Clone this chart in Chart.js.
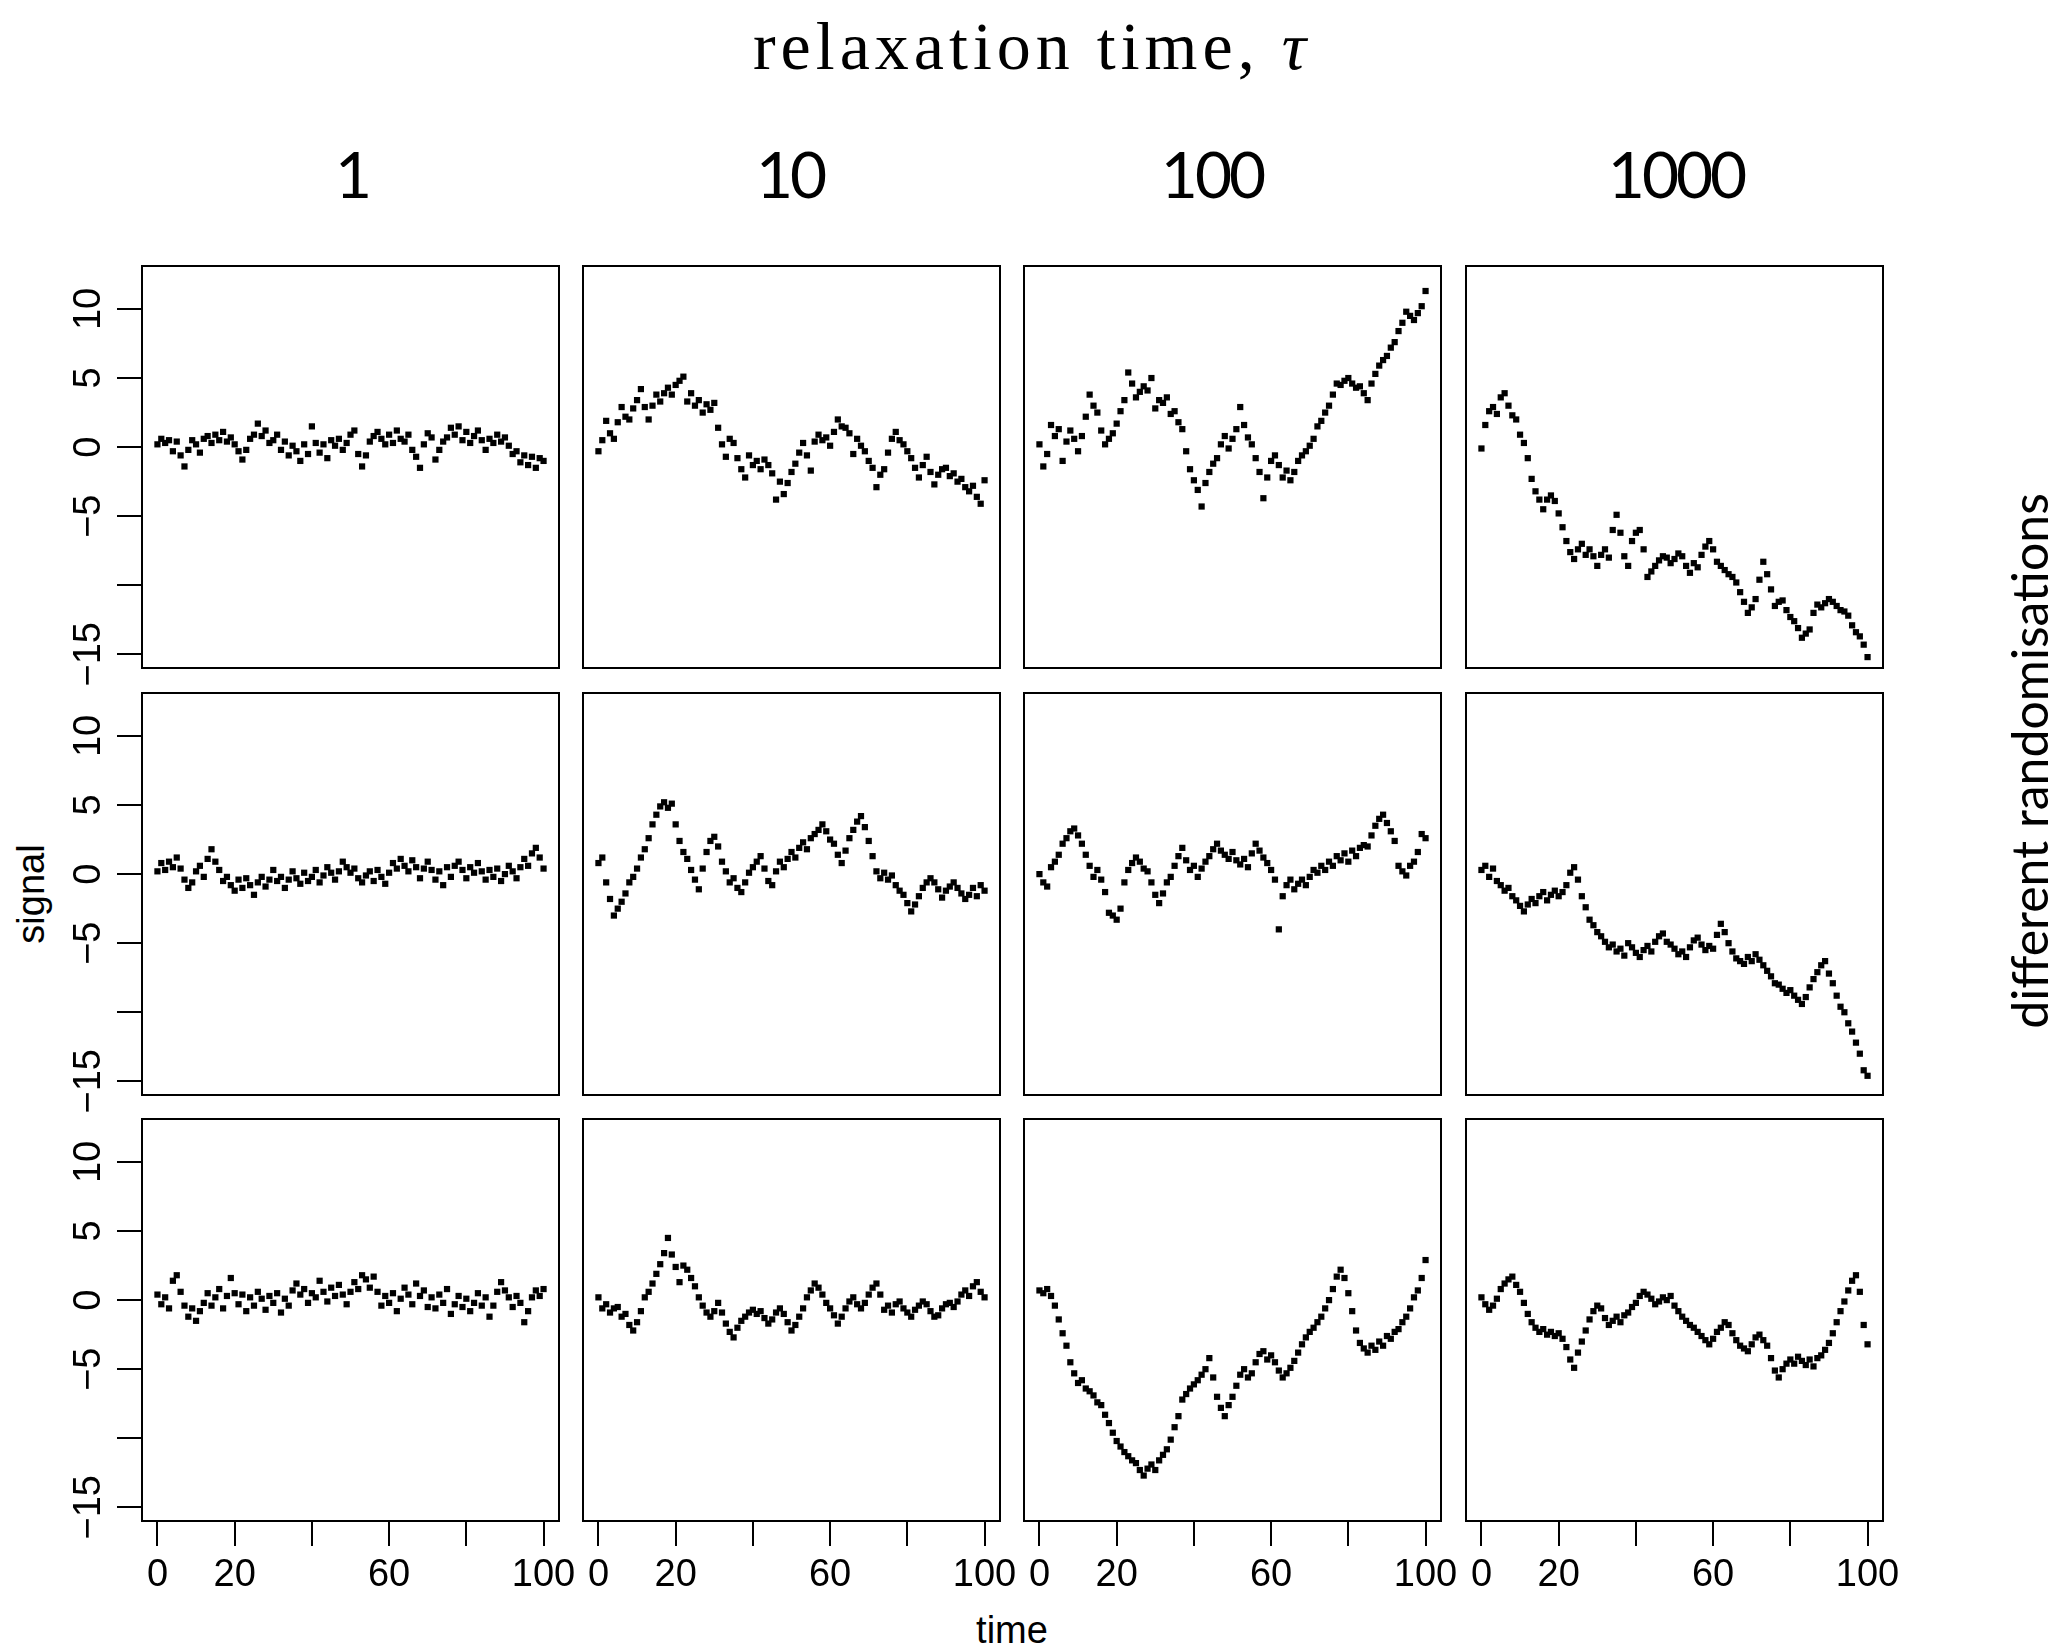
<!DOCTYPE html>
<html><head><meta charset="utf-8">
<script src="https://cdn.jsdelivr.net/npm/chart.js@4.4.0/dist/chart.umd.min.js"></script>
<style>
html,body{margin:0;padding:0;background:#fff}
body{width:2066px;height:1649px;position:relative;overflow:hidden}
canvas{position:absolute}
.t{position:absolute;white-space:nowrap;color:#000;line-height:1;transform:translate(-50%,-50%)}
.rot{transform:translate(-50%,-50%) rotate(-90deg)}
</style></head><body>
<div class="t" id="title" style="left:1032px;top:46px;font-family:'Liberation Serif',serif;font-size:68px;letter-spacing:5px">relaxation time, <i>τ</i></div>
<div class="t" style="left:31px;top:894px;font-family:'Liberation Sans',Arial,sans-serif;font-size:38px" id="ylab"></div>
<div class="t" style="left:1012px;top:1630px;font-family:'Liberation Sans',Arial,sans-serif;font-size:38px" id="xlab"></div>
<div class="t rot" style="left:2029px;top:761px;font-family:Lato,sans-serif;font-size:50px" id="rlab"></div>
<script>
// ---------- data ----------
const time = Array.from({length: 101}, (_, i) => i);
const tauLabels = ['1', '10', '100', '1000'];
const tauCenters = [352, 790, 1212, 1676];
const xTickValues = [0, 20, 40, 60, 80, 100];
const xTickLabels = ['0', '20', '', '60', '', '100'];
const yTickValues = [-15, -10, -5, 0, 5, 10];
const yTickLabels = ['\u221215', '', '\u22125', '0', '5', '10'];

// first randomisation
const tau1_run1 = [0.2,0.6,0.3,0.5,-0.3,0.4,-0.6,-1.4,-0.2,0.5,0.2,-0.4,0.6,0.8,0.3,0.9,0.5,1.1,0.4,0.7,0.2,-0.3,-0.9,-0.2,0.6,0.9,1.7,0.8,1.2,0.3,0.5,0.9,-0.2,0.4,-0.6,0.1,-0.3,-1.0,0.2,-0.5,1.5,0.3,-0.4,0.2,-0.8,0.5,0.1,0.6,-0.2,0.3,0.9,1.2,-0.5,-1.4,-0.6,0.4,0.8,1.1,0.6,0.2,0.9,0.3,1.2,0.6,0.4,0.9,-0.2,-0.7,-1.5,0.2,1.0,0.7,-0.9,-0.2,0.4,0.7,1.4,0.9,1.5,0.5,1.1,0.3,0.8,1.2,0.5,-0.2,0.6,0.3,0.9,0.4,0.7,0.1,-0.5,-0.3,-1.1,-0.6,-1.3,-0.7,-1.5,-0.8,-1.0];
const tau10_run1 = [-0.3,0.5,1.9,1.0,0.6,1.8,2.9,2.2,2.0,2.8,3.4,4.2,2.9,2.0,3.0,3.8,3.3,3.9,4.3,3.8,4.5,4.8,5.1,3.3,3.9,3.0,3.4,2.5,3.1,2.7,3.2,1.4,0.2,-0.7,0.6,0.3,-0.8,-1.6,-2.2,-0.6,-1.3,-1.0,-1.6,-0.9,-1.3,-1.9,-3.8,-2.5,-3.4,-2.6,-1.8,-1.2,-0.4,0.3,-0.6,-1.7,0.4,0.9,0.5,0.7,0.1,1.1,2.0,1.5,1.4,1.0,-0.5,0.6,0.1,-0.3,-1.0,-1.5,-2.9,-2.0,-1.6,-0.4,0.6,1.1,0.5,0.2,-0.3,-0.8,-1.5,-2.2,-1.3,-0.7,-1.8,-2.7,-2.0,-1.6,-1.5,-2.1,-1.9,-2.5,-2.3,-2.9,-3.2,-2.8,-3.6,-4.1,-2.4];
const tau100_run1 = [0.2,-1.4,-0.5,1.6,0.8,1.3,-1.0,0.4,1.2,0.6,-0.3,0.8,2.2,3.8,3.0,2.5,1.2,0.2,0.6,1.0,1.7,2.6,3.4,5.4,4.6,3.6,4.0,4.4,4.1,5.0,2.8,3.4,3.2,3.6,2.4,2.6,1.8,1.3,-0.3,-1.6,-2.4,-3.1,-4.3,-2.6,-1.8,-1.2,-0.8,0.2,0.8,-0.1,0.6,1.3,2.9,1.6,0.7,0.2,-0.8,-1.8,-3.7,-2.2,-1.0,-0.6,-1.3,-2.2,-1.7,-2.4,-1.8,-1.0,-0.6,-0.3,0.1,0.6,1.5,1.9,2.5,3.0,3.8,4.6,4.5,4.8,5.0,4.6,4.3,4.4,3.9,3.4,4.6,5.3,5.9,6.3,6.6,7.2,7.6,8.4,9.0,9.8,9.5,9.2,9.7,10.2,11.3];
const tau1000_run1 = [-0.1,1.6,2.6,2.9,2.4,3.6,3.9,3.0,2.3,2.0,0.9,0.3,-0.8,-2.3,-3.2,-3.8,-4.5,-3.8,-3.5,-3.9,-4.8,-5.8,-6.8,-7.6,-8.1,-7.4,-7.0,-7.8,-7.4,-7.9,-8.6,-7.8,-7.4,-8.0,-6.0,-4.9,-6.2,-7.9,-8.6,-6.8,-6.2,-6.0,-7.4,-9.4,-9.0,-8.6,-8.2,-7.9,-8.0,-8.4,-8.1,-7.7,-7.9,-8.6,-9.1,-8.4,-8.7,-7.8,-7.2,-6.8,-7.4,-8.3,-8.6,-8.9,-9.2,-9.4,-9.8,-10.5,-11.2,-12.0,-11.6,-11.0,-9.6,-8.3,-9.2,-10.3,-11.5,-11.2,-11.1,-11.8,-12.3,-12.6,-13.1,-13.8,-13.5,-13.2,-12.0,-11.4,-11.6,-11.3,-11.0,-11.2,-11.5,-11.8,-11.9,-12.2,-12.9,-13.4,-13.7,-14.3,-15.2];

// second randomisation
const tau1_run2 = [0.2,0.8,0.3,0.9,0.5,1.2,0.4,-0.4,-1.0,-0.6,0.2,0.6,-0.2,1.1,1.8,0.9,0.3,-0.5,-0.2,-0.8,-1.2,-0.4,-1.0,-0.3,-0.8,-1.5,-0.6,-0.2,-0.9,-0.4,0.3,-0.5,-0.2,-1.0,-0.4,0.2,-0.3,-0.7,0.1,-0.5,-0.2,0.3,-0.6,-0.1,0.5,0.1,-0.4,0.2,0.9,0.5,0.1,0.4,-0.3,-0.6,-0.1,0.2,-0.5,0.3,-0.2,-0.7,0.1,0.8,0.4,1.1,0.6,0.2,1.0,0.5,-0.3,0.4,0.9,0.3,-0.4,0.2,-0.8,0.5,-0.2,0.6,0.9,0.3,-0.3,0.5,0.1,0.8,0.2,-0.4,0.3,-0.2,0.4,-0.5,0.0,0.6,0.2,-0.3,0.5,1.1,0.6,1.5,1.9,1.2,0.4];
const tau10_run2 = [0.8,1.2,-0.6,-1.8,-3.0,-2.5,-2.0,-1.4,-0.6,-0.2,0.4,1.2,1.8,2.6,3.6,4.3,4.9,5.2,4.8,5.1,3.6,2.4,1.6,1.1,0.3,-0.4,-1.1,0.4,1.6,2.4,2.7,2.0,0.9,0.2,-0.6,-0.3,-1.0,-1.3,-0.6,0.1,0.5,0.9,1.3,0.4,-0.5,-0.8,0.2,0.9,0.5,1.1,1.6,1.2,1.9,2.3,1.8,2.6,2.9,3.2,3.6,3.1,2.5,2.2,1.4,0.8,1.7,2.6,3.2,3.8,4.2,3.4,2.4,1.3,0.2,-0.3,0.1,-0.4,-0.1,-0.8,-1.2,-1.5,-2.1,-2.7,-2.2,-1.6,-1.0,-0.6,-0.3,-0.6,-1.1,-1.7,-1.2,-0.9,-0.6,-1.0,-1.4,-1.8,-1.5,-1.0,-1.6,-0.8,-1.2];
const tau100_run2 = [0.0,-0.6,-0.9,0.5,0.9,1.4,2.2,2.6,3.1,3.3,2.8,2.2,1.4,0.6,-0.2,0.3,-0.4,-1.3,-2.8,-3.0,-3.3,-2.5,-0.6,0.3,0.8,1.2,0.9,0.4,0.2,-0.6,-1.5,-2.1,-1.4,-0.6,-0.2,0.6,1.3,1.9,1.0,0.3,0.6,-0.2,0.4,0.9,1.3,1.8,2.2,1.7,1.4,1.1,1.6,1.0,0.7,1.1,0.5,1.5,2.2,1.7,1.2,0.8,0.3,-0.4,-4.0,-1.6,-0.8,-0.4,-1.1,-0.7,-0.4,-0.8,-0.2,0.3,0.1,0.6,0.3,0.9,0.6,1.3,1.0,1.5,0.9,1.7,1.3,1.9,2.1,2.0,2.8,3.5,4.0,4.3,3.7,3.1,2.4,0.6,0.2,-0.1,0.6,0.9,1.6,2.9,2.6];
const tau1000_run2 = [0.3,0.6,-0.2,0.4,-0.5,-0.8,-1.2,-1.0,-1.6,-1.9,-2.3,-2.7,-2.2,-1.8,-2.1,-1.6,-1.3,-1.9,-1.5,-1.2,-1.6,-1.3,-0.8,0.1,0.5,-0.4,-1.6,-2.4,-3.3,-3.7,-4.2,-4.5,-4.9,-5.3,-5.1,-5.6,-5.4,-5.9,-5.0,-5.3,-5.7,-6.0,-5.5,-5.2,-5.6,-4.9,-4.5,-4.3,-4.9,-5.1,-5.4,-5.8,-5.6,-6.0,-5.3,-4.8,-4.6,-5.1,-5.5,-5.2,-5.4,-4.4,-3.6,-4.2,-5.0,-5.6,-6.1,-6.3,-6.5,-6.0,-6.3,-5.8,-6.2,-6.6,-7.0,-7.4,-7.9,-8.0,-8.3,-8.6,-8.4,-8.8,-9.1,-9.4,-8.9,-8.2,-7.6,-7.1,-6.6,-6.3,-7.2,-7.9,-8.8,-9.6,-10.0,-10.8,-11.4,-12.2,-13.0,-14.2,-14.6];

// third randomisation
const tau1_run3 = [0.4,-0.3,0.2,-0.6,1.4,1.8,0.6,-0.4,-1.2,-0.6,-1.5,-0.8,-0.2,0.5,-0.4,0.2,0.8,-0.6,0.3,1.6,0.5,-0.3,0.4,-0.8,0.2,-0.4,0.6,0.1,-0.7,0.3,-0.2,0.5,-0.9,0.1,-0.4,0.7,1.2,0.4,0.8,-0.2,0.5,0.2,1.4,0.6,-0.1,0.9,0.3,1.1,0.4,-0.3,0.6,1.3,0.8,1.8,1.5,0.9,1.7,0.6,-0.4,0.3,-0.2,0.5,-0.8,0.1,0.9,0.4,-0.3,1.2,0.3,0.7,-0.5,0.2,-0.6,0.4,-0.2,0.8,-1.0,-0.3,0.3,-0.5,0.1,-0.8,-0.2,0.5,-0.4,0.2,-1.2,-0.4,0.6,1.3,0.7,0.2,-0.5,0.3,-0.2,-1.6,-0.8,0.2,0.7,0.3,0.8];
const tau10_run3 = [0.2,-0.6,-0.3,-0.9,-0.6,-0.5,-1.2,-1.0,-1.8,-2.2,-1.6,-0.8,0.2,0.6,1.2,1.9,2.6,3.4,4.5,3.3,2.4,1.3,2.5,2.2,1.6,1.0,0.2,-0.4,-0.9,-1.2,-0.8,-0.2,-0.9,-1.7,-2.3,-2.7,-2.0,-1.5,-1.2,-0.9,-0.7,-1.0,-0.8,-1.3,-1.7,-1.4,-0.9,-0.6,-1.0,-1.6,-2.2,-1.8,-1.2,-0.6,0.2,0.7,1.2,0.9,0.4,-0.2,-0.6,-1.1,-1.7,-1.2,-0.6,-0.1,0.2,-0.3,-0.6,-0.2,0.4,0.9,1.2,0.4,-0.7,-0.4,-0.9,-0.3,-0.1,-0.6,-0.9,-1.2,-0.7,-0.4,-0.1,-0.3,-0.8,-1.2,-1.1,-0.6,-0.3,-0.2,-0.5,-0.1,0.4,0.7,0.3,1.0,1.3,0.6,0.2];
const tau100_run3 = [0.7,0.5,0.8,0.3,-0.4,-1.4,-2.4,-3.3,-4.5,-5.3,-6.0,-5.8,-6.4,-6.6,-6.9,-7.4,-7.6,-8.3,-8.9,-9.6,-10.2,-10.6,-11.0,-11.3,-11.6,-11.8,-12.3,-12.7,-12.2,-11.9,-12.3,-11.6,-11.2,-10.8,-10.1,-9.2,-8.4,-7.2,-6.8,-6.4,-6.1,-5.8,-5.4,-5.0,-4.2,-5.6,-7.0,-7.8,-8.4,-7.6,-7.0,-6.2,-5.4,-5.0,-5.6,-5.3,-4.5,-3.9,-3.7,-4.3,-4.0,-4.5,-5.1,-5.6,-5.3,-4.9,-4.4,-3.8,-3.2,-2.7,-2.3,-2.0,-1.6,-1.2,-0.6,0.0,0.8,1.7,2.2,1.6,0.5,-0.8,-2.2,-3.1,-3.5,-3.8,-3.3,-3.6,-3.0,-3.3,-2.6,-2.8,-2.3,-2.1,-1.6,-1.2,-0.6,0.2,0.7,1.6,2.9];
const tau1000_run3 = [0.2,-0.3,-0.7,-0.4,0.1,0.8,1.2,1.5,1.7,1.1,0.6,-0.2,-1.0,-1.6,-2.0,-2.3,-2.1,-2.5,-2.3,-2.6,-2.4,-2.8,-3.4,-4.3,-4.9,-3.8,-3.0,-2.2,-1.4,-0.8,-0.4,-0.6,-1.3,-1.8,-1.5,-1.2,-1.6,-1.1,-0.9,-0.5,-0.2,0.3,0.6,0.4,0.1,-0.3,-0.1,0.2,0.0,0.3,-0.4,-0.8,-1.2,-1.5,-1.8,-2.0,-2.3,-2.6,-2.9,-3.2,-2.8,-2.3,-2.0,-1.6,-1.8,-2.4,-2.9,-3.3,-3.5,-3.7,-3.2,-2.7,-2.5,-2.9,-3.3,-4.2,-5.1,-5.6,-5.0,-4.6,-4.3,-4.6,-4.1,-4.4,-4.7,-4.3,-4.8,-4.2,-4.0,-3.6,-3.1,-2.4,-1.6,-0.8,-0.1,0.7,1.4,1.8,0.6,-1.8,-3.2];

const panels = [
  [tau1_run1, tau10_run1, tau100_run1, tau1000_run1],
  [tau1_run2, tau10_run2, tau100_run2, tau1000_run2],
  [tau1_run3, tau10_run3, tau100_run3, tau1000_run3]
];

// ---------- layout ----------
const PL = [142, 583, 1024, 1466];
const PT = [266, 693, 1119];
const PW = 417, PH = 402;
const X_MIN = -4, X_MAX = 104, Y_MIN = -15.99, Y_MAX = 13.11;
const TICK_FONT = {family: "'Liberation Sans', Arial, sans-serif", size: 38};

document.getElementById('ylab').textContent = 'signal';
document.getElementById('ylab').classList.add('rot');
document.getElementById('xlab').textContent = 'time';
document.getElementById('rlab').textContent = 'different randomisations';
tauLabels.forEach((lab, i) => {
  const d = document.createElement('div');
  d.className = 't';
  d.textContent = lab;
  d.style.cssText = `left:${tauCenters[i]}px;top:174px;font-family:Lato,sans-serif;font-size:64px;letter-spacing:-3px`;
  document.body.appendChild(d);
});

const framePlugin = {
  id: 'frame',
  afterDraw(chart) {
    const {ctx, chartArea: a} = chart;
    ctx.save();
    ctx.strokeStyle = '#000';
    ctx.lineWidth = 2;
    ctx.strokeRect(a.left, a.top, a.right - a.left, a.bottom - a.top);
    ctx.restore();
  }
};

function makeChart(r, c) {
  const series = panels[r][c];
  const showY = c === 0, showX = r === 2;
  const canvasLeft = showY ? 0 : PL[c] - 30;
  const padL = showY ? 0 : 30;
  const padT = 30, padR = 40;
  const xAxisH = showX ? 110 : 0;
  const yAxisW = showY ? PL[0] : 0;
  const padB = showX ? 5 : 30;
  const w = (PL[c] - canvasLeft) + PW + padR;
  const h = padT + PH + xAxisH + padB;
  const cv = document.createElement('canvas');
  cv.width = w; cv.height = h;
  cv.style.left = canvasLeft + 'px';
  cv.style.top = (PT[r] - padT) + 'px';
  cv.style.width = w + 'px';
  cv.style.height = h + 'px';
  document.body.appendChild(cv);
  new Chart(cv, {
    type: 'scatter',
    data: {
      datasets: [{
        data: time.map((t, i) => ({x: t, y: series[i]})),
        pointStyle: 'rect',
        pointRadius: 4.4,
        backgroundColor: '#000',
        borderColor: '#000',
        borderWidth: 0,
        showLine: false
      }]
    },
    options: {
      responsive: false,
      animation: false,
      devicePixelRatio: 1,
      events: [],
      layout: {padding: {left: padL, top: padT, right: padR, bottom: padB}},
      plugins: {legend: {display: false}, tooltip: {enabled: false}},
      scales: {
        x: {
          type: 'linear', min: X_MIN, max: X_MAX, display: showX,
          afterFit: s => { s.height = xAxisH; },
          afterBuildTicks: s => { s.ticks = xTickValues.map(v => ({value: v})); },
          grid: {display: true, drawOnChartArea: false, drawTicks: true, tickLength: 25, lineWidth: 2, color: '#000'},
          border: {display: false},
          ticks: {
            autoSkip: false, maxRotation: 0, minRotation: 0, padding: 7,
            font: TICK_FONT, color: '#000',
            callback: v => xTickLabels[xTickValues.indexOf(v)] ?? ''
          }
        },
        y: {
          type: 'linear', min: Y_MIN, max: Y_MAX, display: showY,
          afterFit: s => { s.width = yAxisW; },
          afterBuildTicks: s => { s.ticks = yTickValues.map(v => ({value: v})); },
          grid: {display: true, drawOnChartArea: false, drawTicks: true, tickLength: 25, lineWidth: 2, color: '#000'},
          border: {display: false},
          ticks: {
            autoSkip: false, minRotation: 90, maxRotation: 90, crossAlign: 'center', padding: -5,
            font: TICK_FONT, color: '#000',
            callback: v => yTickLabels[yTickValues.indexOf(v)] ?? ''
          }
        }
      }
    },
    plugins: [framePlugin]
  });
}

for (let r = 0; r < 3; r++) for (let c = 0; c < 4; c++) makeChart(r, c);
</script>
</body></html>
